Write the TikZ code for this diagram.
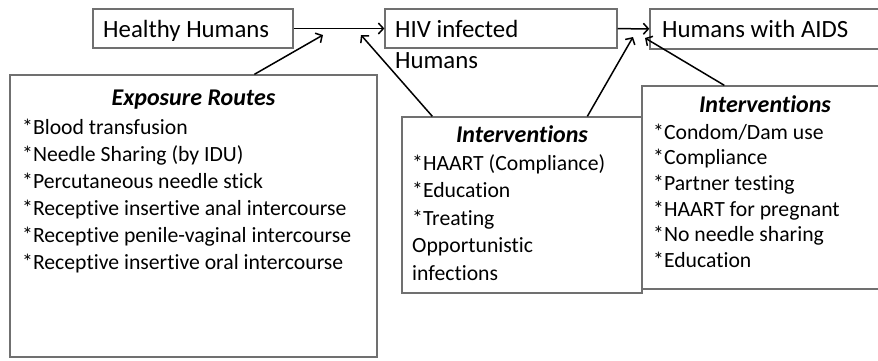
\documentclass[tikz,border=0pt]{standalone}
\usepackage{fontspec}
\setmainfont{Carlito}[Ligatures=NoCommon]
\usetikzlibrary{arrows.meta}
\definecolor{boxgray}{RGB}{112,112,112}
\begin{document}
\begin{tikzpicture}[x=1pt, y=-1pt,
    box/.style={draw=boxgray, line width=1.3pt, rectangle, inner sep=0pt},
    label/.style={inner sep=0pt, anchor=north west, align=left, font=\fontsize{24.8}{31}\selectfont},
    heading/.style={inner sep=0pt, anchor=base, font=\fontsize{24}{27}\selectfont\bfseries\itshape},
    items/.style={inner sep=0pt, anchor=north west, align=left},
    link/.style={->, line width=1.5pt},
    >={Straight Barb[length=5pt, width=11pt]}]
  \clip (0, 0) rectangle (878, 360);

  % Nodes
  \node [box, minimum width=200pt, minimum height=39pt] (healthy) at (193, 28.5) {};
  \node [box, minimum width=232pt, minimum height=39pt] (hiv) at (501, 28.5) {};
  \node [box, minimum width=232pt, minimum height=40pt] (aids) at (766, 29) {};
  \node [label] (healthytext) at (103, 15.3) {\strut Healthy Humans};
  \node [label] (hivtext) at (395, 15.3) {\strut HIV infected\\Humans};
  \node [label] (aidstext) at (662, 15.3) {\strut Humans with AIDS};

  \node [box, minimum width=367pt, minimum height=282pt] (expo) at (193.5, 216) {};
  \node [heading] (expotitle) at (193.5, 105) {Exposure Routes};
  \node [items, font=\fontsize{21.7}{27}\selectfont] (expolist) at (22, 115.1) {\strut
    *Blood transfusion\\
    *Needle Sharing (by IDU)\\
    *Percutaneous needle stick\\
    *Receptive insertive anal intercourse\\
    *Receptive penile-vaginal intercourse\\
    *Receptive insertive oral intercourse};

  \node [box, minimum width=240pt, minimum height=176pt] (midint) at (522, 205) {};
  \node [heading] (midtitle) at (522, 142) {Interventions};
  \node [items, font=\fontsize{21.7}{27.5}\selectfont] (midlist) at (412, 150.8) {\strut
    *HAART (Compliance)\\
    *Education\\
    *Treating\\
    Opportunistic\\
    infections};

  \node [box, minimum width=240pt, minimum height=203pt] (rightint) at (762, 187.5) {};
  \node [heading] (righttitle) at (765, 112) {Interventions};
  \node [items, font=\fontsize{21.7}{25.6}\selectfont] (rightlist) at (653, 121.1) {\strut
    *Condom/Dam use\\
    *Compliance\\
    *Partner testing\\
    *HAART for pregnant\\
    *No needle sharing\\
    *Education};

  \coordinate (tipA) at (323, 35);
  \coordinate (tipB) at (361, 35);
  \coordinate (tipC) at (633, 37);
  \coordinate (tipD) at (645, 38);

  % Connections
  \draw [link] (healthy) -- (hiv);
  \draw [link] (hiv) -- (aids);
  \draw [link] ([xshift=245pt]expo.north west) -- (tipA);
  \draw [link] ([xshift=31pt]midint.north west) -- (tipB);
  \draw [link] ([xshift=186pt]midint.north west) -- (tipC);
  \draw [link] ([xshift=83pt]rightint.north west) -- (tipD);
\end{tikzpicture}
\end{document}
